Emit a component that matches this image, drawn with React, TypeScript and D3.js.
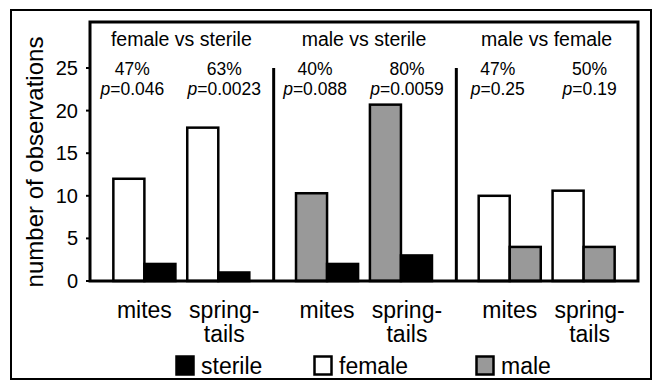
import React, { useEffect, useRef } from 'react';
import * as d3 from 'd3';

const groups = ['female vs sterile', 'male vs sterile', 'male vs female'];
const categories = ['mites', 'springtails'];
const categoryLines = [['mites'], ['spring-', 'tails']];
// which two series each panel compares (left bar, right bar)
const panelSeries = [['female', 'sterile'], ['male', 'sterile'], ['female', 'male']];
const femaleVsSterile = [[12, 2], [18, 1]];
const maleVsSterile = [[10.3, 2], [20.7, 3]];
const maleVsFemale = [[10, 4], [10.6, 4]];
const percents = [['47%', '63%'], ['40%', '80%'], ['47%', '50%']];
const pValues = [['0.046', '0.0023'], ['0.088', '0.0059'], ['0.25', '0.19']];
const yTicks = [0, 5, 10, 15, 20, 25];
const legendItems = ['sterile', 'female', 'male'];

const colors = { sterile: '#000', female: '#fff', male: '#999' };
const font = '"Liberation Sans", Arial, sans-serif';

const App = () => {
  const svgRef = useRef();

  useEffect(() => {
    const svg = d3.select(svgRef.current);
    svg.selectAll('*').remove();

    const panelValues = [femaleVsSterile, maleVsSterile, maleVsFemale];
    const plot = { left: 90, right: 638, top: 22, bottom: 281 };

    const y = d3.scaleLinear().domain([0, 30.4]).range([plot.bottom, plot.top]);
    const x0 = d3.scaleBand().domain(groups).range([plot.left, plot.right]);
    const x1 = d3
      .scaleBand()
      .domain(categories)
      .range([0, x0.bandwidth()])
      .paddingInner(0.16)
      .paddingOuter(0.316);
    const x2 = d3.scaleBand().domain([0, 1]).range([0, x1.bandwidth()]);

    // outer frame
    svg
      .append('rect')
      .attr('x', 11)
      .attr('y', 10)
      .attr('width', 640)
      .attr('height', 369)
      .attr('fill', '#fff')
      .attr('stroke', '#000')
      .attr('stroke-width', 2);

    // y axis ticks + labels
    const yAxis = svg.append('g').attr('font-family', font);
    yAxis
      .selectAll('line')
      .data(yTicks)
      .enter()
      .append('line')
      .attr('x1', plot.left - 4)
      .attr('x2', plot.left)
      .attr('y1', (d) => y(d))
      .attr('y2', (d) => y(d))
      .attr('stroke', '#000')
      .attr('stroke-width', 2);
    yAxis
      .selectAll('text')
      .data(yTicks)
      .enter()
      .append('text')
      .attr('x', 78)
      .attr('y', (d) => y(d) + 7)
      .attr('text-anchor', 'end')
      .attr('font-size', 20)
      .text((d) => d);

    svg
      .append('text')
      .attr('font-family', font)
      .attr('font-size', 24)
      .attr('text-anchor', 'middle')
      .attr('transform', 'translate(43,162) rotate(-90)')
      .text('number of observations');

    groups.forEach((g, gi) => {
      const panel = svg.append('g').attr('transform', `translate(${x0(g)},0)`);
      const gx = x0(g);

      categories.forEach((c, ci) => {
        const vals = panelValues[gi][ci];
        panel
          .selectAll(`rect.c${ci}`)
          .data(vals)
          .enter()
          .append('rect')
          .attr('class', `c${ci}`)
          .attr('x', (d, i) => x1(c) + x2(i))
          .attr('y', (d) => y(d))
          .attr('width', x2.bandwidth())
          .attr('height', (d) => y(0) - y(d))
          .attr('fill', (d, i) => colors[panelSeries[gi][i]])
          .attr('stroke', '#000')
          .attr('stroke-width', 2.5);

        const cx = x1(c) + x1.bandwidth() / 2;
        const shift = ci === 0 ? -12 : 6;
        // percent + p-value, two lines
        const stat = panel
          .append('text')
          .attr('font-family', font)
          .attr('font-size', 17.5)
          .attr('text-anchor', 'middle');
        stat.append('tspan').attr('x', cx + shift).attr('y', 75).text(percents[gi][ci]);
        stat.append('tspan').attr('x', cx + shift).attr('dy', 20).attr('font-style', 'italic').text('p');
        stat.append('tspan').text(`=${pValues[gi][ci]}`);

        const label = panel
          .append('text')
          .attr('font-family', font)
          .attr('font-size', 23)
          .attr('text-anchor', 'middle');
        categoryLines[ci].forEach((line, li) => {
          label
            .append('tspan')
            .attr('x', cx + (ci === 1 ? 6 : 0))
            .attr('y', 318 + li * 24)
            .text(line);
        });
      });

      panel
        .append('text')
        .attr('font-family', font)
        .attr('font-size', 19.5)
        .attr('text-anchor', 'middle')
        .attr('x', x0.bandwidth() / 2)
        .attr('y', 46)
        .text(g);

      if (gi > 0) {
        svg
          .append('line')
          .attr('x1', gx + 1)
          .attr('x2', gx + 1)
          .attr('y1', y(25))
          .attr('y2', plot.bottom)
          .attr('stroke', '#000')
          .attr('stroke-width', 3);
      }
    });

    // plot frame
    svg
      .append('rect')
      .attr('x', plot.left)
      .attr('y', plot.top)
      .attr('width', plot.right - plot.left)
      .attr('height', plot.bottom - plot.top)
      .attr('fill', 'none')
      .attr('stroke', '#000')
      .attr('stroke-width', 3);

    // legend
    const legendX = d3.scalePoint().domain(legendItems).range([176, 476]);
    const legend = svg
      .selectAll('g.legend')
      .data(legendItems)
      .enter()
      .append('g')
      .attr('class', 'legend')
      .attr('transform', (d) => `translate(${legendX(d) - (d === 'female' ? 12 : 0)},356)`);
    legend
      .append('rect')
      .attr('width', 17)
      .attr('height', 18)
      .attr('x', 0.5)
      .attr('y', 0.5)
      .attr('fill', (d) => colors[d])
      .attr('stroke', '#000')
      .attr('stroke-width', 2.5);
    legend
      .append('text')
      .attr('font-family', font)
      .attr('font-size', 23)
      .attr('x', 25)
      .attr('y', 18)
      .text((d) => d);
  }, []);

  return (
    <div style={{ position: 'fixed', left: 0, top: 0 }}>
      <svg ref={svgRef} width={656} height={382} style={{ display: 'block', background: '#fff' }}></svg>
    </div>
  );
};

export default App;
